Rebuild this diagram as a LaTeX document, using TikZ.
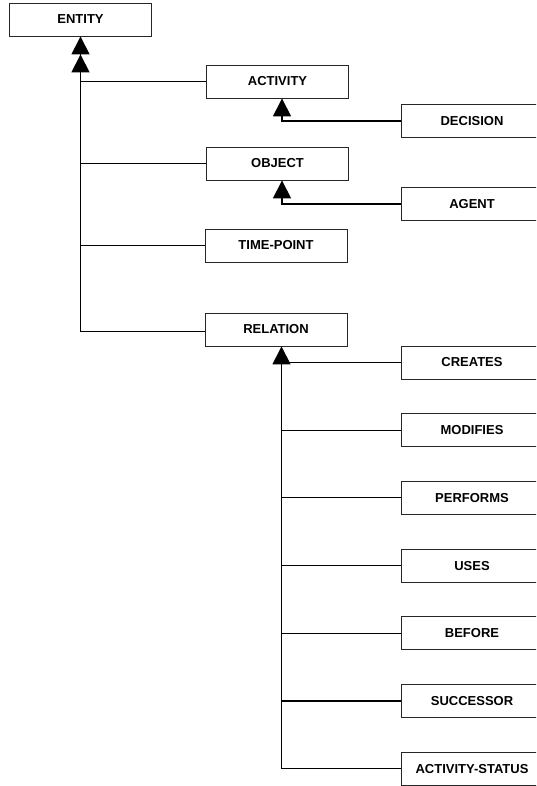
\documentclass[tikz,border=0pt]{standalone}
\usepackage{fontspec}
\setmainfont{Liberation Sans}
\usetikzlibrary{arrows.meta}
\begin{document}
\begin{tikzpicture}[x=1pt,y=-1pt,
  box/.style={draw=black!85, line width=0.8pt, rectangle, minimum width=142pt,
    minimum height=33pt, inner sep=0pt, font=\fontsize{13}{15}\selectfont\bfseries},
  link/.style={draw=black, line width=1.1pt},
  isa/.style={link, -{Triangle[length=18pt,width=18pt]}},
  isatwo/.style={link, -{Triangle[length=18pt,width=18pt] Triangle[length=18pt,width=18pt]}}]
  \useasboundingbox (0,0) rectangle (536,786);
  \clip (0,0) rectangle (536,786);
  \fill[white] (0,0) rectangle (536,786);

  % top-level classes
  \node[box] (entity) at (80.5,19.5) {ENTITY};
  \node[box] (activity) at (277.5,81.5) {ACTIVITY};
  \node[box] (object) at (277.5,163.5) {OBJECT};
  \node[box] (timepoint) at (276,245.5) {TIME-POINT};
  \node[box] (relation) at (276,329.5) {RELATION};

  % subclasses (right column runs off the page edge)
  \node[box] (decision) at (472,121) {DECISION};
  \node[box] (agent) at (472,204) {AGENT};
  \node[box] (creates) at (472,362.5) {CREATES};
  \node[box] (modifies) at (472,430.2) {MODIFIES};
  \node[box] (performs) at (472,497.9) {PERFORMS};
  \node[box] (uses) at (472,565.6) {USES};
  \node[box] (before) at (472,633.3) {BEFORE};
  \node[box] (successor) at (472,701) {SUCCESSOR};
  \node[box] (astatus) at (472,768.7) {ACTIVITY-STATUS};

  % trunk under ENTITY
  \draw[isatwo] ([yshift=-2pt]relation.west) -| (entity.south);
  \foreach \n in {activity,object,timepoint}
    \draw[link] (\n.west) -- (\n.west -| entity.south);

  % subclasses of ACTIVITY and OBJECT
  \draw[isa] (decision.west) -| ([xshift=4.5pt]activity.south);
  \draw[isa] (agent.west) -| ([xshift=4.5pt]object.south);

  % subclasses of RELATION
  \coordinate (rtrunk) at ([xshift=5.5pt]relation.south);
  \draw[isa] (astatus.west) -| (rtrunk);
  \foreach \n in {creates,modifies,performs,uses,before,successor}
    \draw[link] (\n.west) -- (\n.west -| rtrunk);
\end{tikzpicture}
\end{document}
